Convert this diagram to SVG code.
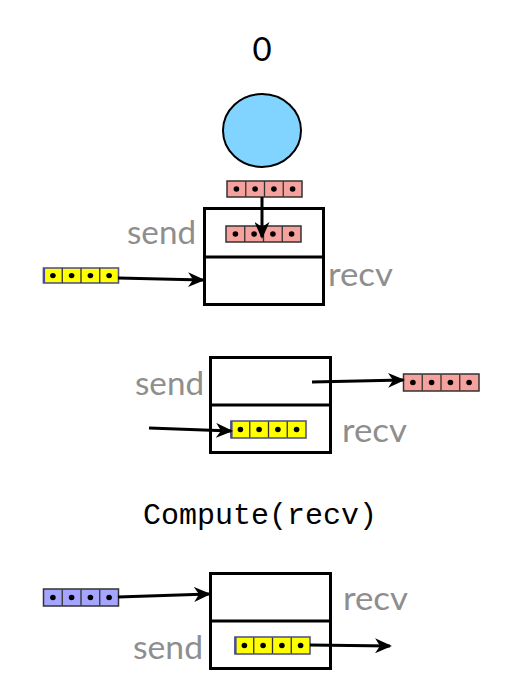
<svg xmlns="http://www.w3.org/2000/svg" width="514" height="697" viewBox="0 0 514 697">
<defs>
<style>
.lbl{font-family:"Lato","Open Sans","Liberation Sans",sans-serif;font-size:33px;fill:#8e8e8e}
.box{fill:#fff;stroke:#000;stroke-width:3}
.div{stroke:#000;stroke-width:3}
.conn{stroke:#000;stroke-width:3;fill:none;marker-end:url(#ah)}
.cells{fill:none;stroke:#333;stroke-width:1.3}
.pink{fill:#f5a19d;stroke:#333;stroke-width:1.5}
.yel{fill:#ffff00;stroke:#55558a;stroke-width:1.6}
.blu{fill:#a5a5ff;stroke:#333;stroke-width:1.5}
.dot{fill:#000}
</style>
<marker id="ah" markerWidth="17" markerHeight="15" refX="15" refY="7.5" orient="auto" markerUnits="userSpaceOnUse">
<path d="M0,0 L17,7.5 L0,15 L5,7.5 z" fill="#000"/>
</marker>
<g id="cellset">
<path class="cells" d="M18.75,0 V16 M37.5,0 V16 M56.25,0 V16"/>
<circle class="dot" cx="9.4" cy="8" r="2.8"/>
<circle class="dot" cx="28.1" cy="8" r="2.8"/>
<circle class="dot" cx="46.9" cy="8" r="2.8"/>
<circle class="dot" cx="65.6" cy="8" r="2.8"/>
</g>
</defs>
<rect width="514" height="697" fill="#fff"/>

<g id="rank">
<text x="262" y="61" text-anchor="middle" font-family="Lato, Liberation Sans, sans-serif" font-size="33" fill="#000">0</text>
</g>
<g id="process">
<ellipse cx="262" cy="130.5" rx="39" ry="36.5" fill="#80d4ff" stroke="#000" stroke-width="2"/>
</g>

<g id="buf-pink-top">
<rect class="pink" x="227" y="181" width="75" height="16"/>
<use href="#cellset" x="227" y="181"/>
</g>

<g id="box1">
<rect class="box" x="204.5" y="208.5" width="119" height="96"/>
<line class="div" x1="204.5" y1="257" x2="323.5" y2="257"/>
<text class="lbl" x="127" y="244" textLength="69" lengthAdjust="spacingAndGlyphs">send</text>
<text class="lbl" x="328" y="286" textLength="65" lengthAdjust="spacingAndGlyphs">recv</text>
<g id="buf-pink-in1">
<rect class="pink" x="226" y="226" width="75" height="16"/>
<use href="#cellset" x="226" y="226"/>
</g>
</g>

<g id="buf-yellow-left1">
<rect class="yel" x="43.5" y="268" width="75" height="15"/>
<line x1="44" y1="268" x2="44" y2="283" stroke="#4848a0" stroke-width="2.2"/>
<use href="#cellset" transform="translate(43.5,268) scale(1,0.94)"/>
</g>

<g id="box2">
<rect class="box" x="210.5" y="357.5" width="120" height="95"/>
<line class="div" x1="210.5" y1="405" x2="330.5" y2="405"/>
<text class="lbl" x="135" y="395" textLength="69" lengthAdjust="spacingAndGlyphs">send</text>
<text class="lbl" x="342" y="442" textLength="65" lengthAdjust="spacingAndGlyphs">recv</text>
<g id="buf-yellow-in2">
<rect class="yel" x="231" y="421" width="75" height="17"/>
<line x1="231.5" y1="421" x2="231.5" y2="438" stroke="#4848a0" stroke-width="2.2"/>
<use href="#cellset" transform="translate(231,421.5)"/>
</g>
</g>

<g id="buf-pink-right2">
<rect class="pink" x="403.5" y="374" width="75.5" height="17"/>
<use href="#cellset" transform="translate(403.5,374.5)"/>
</g>

<g id="compute">
<text x="143" y="524" font-family="Liberation Mono, Courier New, monospace" font-size="30" fill="#000" textLength="234">Compute(recv)</text>
</g>

<g id="box3">
<rect class="box" x="210.5" y="573.5" width="120" height="95"/>
<line class="div" x1="210.5" y1="621" x2="330.5" y2="621"/>
<text class="lbl" x="343" y="610" textLength="65" lengthAdjust="spacingAndGlyphs">recv</text>
<text class="lbl" x="133" y="659" textLength="70" lengthAdjust="spacingAndGlyphs">send</text>
<g id="buf-yellow-in3">
<rect class="yel" x="235" y="637" width="75" height="17"/>
<line x1="235.5" y1="637" x2="235.5" y2="654" stroke="#4848a0" stroke-width="2.2"/>
<use href="#cellset" transform="translate(235,637.5)"/>
</g>
</g>

<g id="buf-blue-left3">
<rect class="blu" x="43.5" y="589" width="75" height="17"/>
<use href="#cellset" transform="translate(43.5,589.5)"/>
</g>

<g id="connectors">
<line class="conn" x1="262" y1="197" x2="262" y2="237"/>
<line class="conn" x1="118" y1="278" x2="203" y2="280"/>
<line class="conn" x1="312" y1="382" x2="403" y2="380"/>
<line class="conn" x1="149" y1="428" x2="231" y2="431"/>
<line class="conn" x1="118" y1="597" x2="209" y2="594"/>
<line class="conn" x1="310" y1="645" x2="390" y2="646"/>
</g>
</svg>
